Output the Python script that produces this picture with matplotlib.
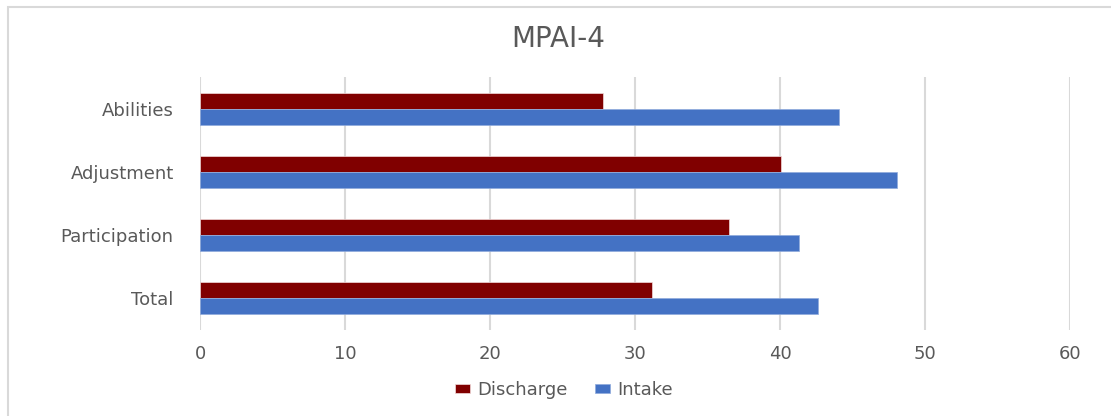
import matplotlib
matplotlib.use('Agg')
import matplotlib.pyplot as plt
from matplotlib.patches import Rectangle
import numpy as np

categories = ['Abilities', 'Adjustment', 'Participation', 'Total']
discharge = [27.8, 40.1, 36.5, 31.2]
intake = [44.1, 48.1, 41.3, 42.6]
xticks = [0, 10, 20, 30, 40, 50, 60]

plt.rcParams['font.family'] = ['DejaVu Sans']
text_color = '#595959'

fig = plt.figure(figsize=(11.11, 4.16), dpi=100)
ax = fig.add_axes([200 / 1111, 1 - 330 / 416, 870 / 1111, 253 / 416])

# categories listed top to bottom
pos = np.arange(len(categories))[::-1]
h = 0.253
ax.barh(pos + h / 2, discharge, height=h, color='#800000', edgecolor='#f2dcdc',
        linewidth=0.5, label='Discharge', zorder=3)
ax.barh(pos - h / 2, intake, height=h, color='#4472C4', edgecolor='#8faadc',
        linewidth=0.5, label='Intake', zorder=3)

ax.set_xlim(0, 60)
ax.set_ylim(-0.5, len(categories) - 0.5)
ax.set_xticks(xticks)
ax.set_yticks(pos)
ax.set_yticklabels(categories)
ax.xaxis.grid(True, color='#d9d9d9', linewidth=1.5, zorder=0)
ax.set_axisbelow(True)
for s in ax.spines.values():
    s.set_visible(False)
ax.tick_params(axis='both', length=0, colors=text_color, labelsize=13)
ax.tick_params(axis='y', pad=19)
ax.tick_params(axis='x', pad=11)

fig.text(0.5 + 3 / 1111, 1 - 39 / 416, 'MPAI-4', ha='center', va='center',
         fontsize=20, color=text_color)

fig.legend(loc='center', bbox_to_anchor=(564 / 1111, 1 - 390 / 416), ncol=2,
           frameon=False, fontsize=13, labelcolor=text_color,
           handlelength=0.85, handleheight=0.45, handletextpad=0.4,
           columnspacing=1.5)

# light chart-area border (only left and top edges fall inside the picture)
fig.patches.append(Rectangle((8 / 1111, -0.1), 1.1, 1.1 - 7 / 416,
                             transform=fig.transFigure, fill=False,
                             edgecolor='#d9d9d9', linewidth=1.5))

fig.savefig('out.png', dpi=100)
